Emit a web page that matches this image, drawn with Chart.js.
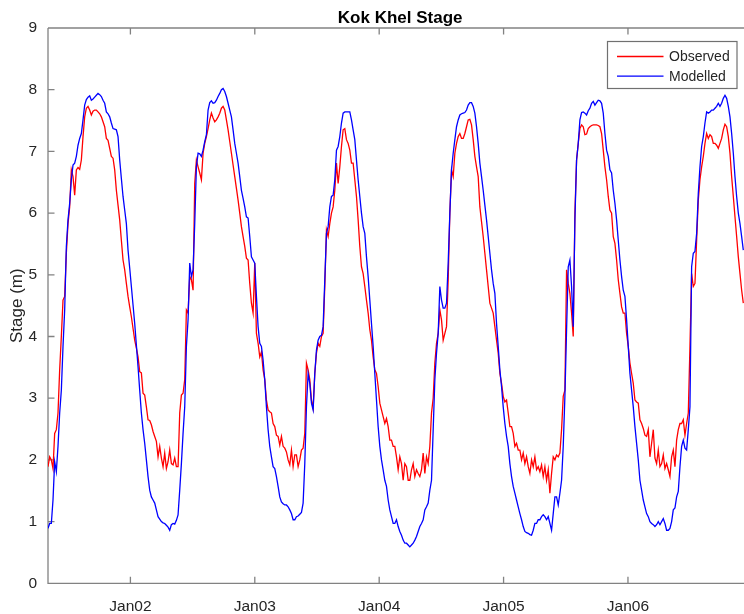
<!DOCTYPE html>
<html>
<head>
<meta charset="utf-8">
<script src="https://cdn.jsdelivr.net/npm/chart.js@4/dist/chart.umd.min.js"></script>
<style>
  html, body { margin: 0; padding: 0; background: #ffffff; overflow: hidden; width: 744px; height: 614px; }
  #wrap { position: absolute; left: 0; top: 0; width: 760px; height: 614px; }
</style>
</head>
<body>
<div id="wrap"><canvas id="c" width="760" height="614"></canvas></div>
<script>
// ---------- data ----------
const chartTitle = 'Kok Khel Stage';
const yAxisLabel = 'Stage (m)';
const seriesNames = ['Observed', 'Modelled'];
const xTickYears = [2002, 2003, 2004, 2005, 2006];
const xTickLabels = ['Jan02', 'Jan03', 'Jan04', 'Jan05', 'Jan06'];
const yTickValues = [0, 1, 2, 3, 4, 5, 6, 7, 8, 9];
const xRangeYears = [2001.3375, 2007.0];
// samples are evenly spaced in time (decimal years)
const sampleStartYear = 2001.3375;
const sampleStepYears = 0.013405;

const observed = [
  1.89,2.05,2.00,1.86,2.43,2.49,2.76,3.46,4.00,4.59,
  4.65,5.35,5.83,6.10,6.70,6.59,6.29,6.70,6.74,6.71,
  6.86,7.24,7.56,7.70,7.73,7.67,7.59,7.65,7.67,7.67,
  7.64,7.61,7.56,7.48,7.40,7.21,7.18,7.05,6.92,6.89,
  6.70,6.37,6.13,5.89,5.56,5.24,5.08,4.86,4.65,4.48,
  4.32,4.13,3.94,3.81,3.67,3.43,3.41,3.08,3.05,2.86,
  2.65,2.64,2.57,2.46,2.38,2.30,2.05,2.22,2.03,1.89,
  2.11,1.86,1.97,2.16,1.94,1.92,2.03,1.89,1.89,2.76,
  3.05,3.08,3.30,4.43,4.38,4.97,4.92,4.75,6.48,6.86,
  6.75,6.65,6.54,6.97,7.13,7.24,7.37,7.51,7.62,7.54,
  7.48,7.51,7.56,7.62,7.70,7.73,
  7.67,7.51,7.35,7.16,6.97,6.78,6.59,6.40,6.21,6.00,
  5.78,5.62,5.46,5.27,5.24,4.86,4.54,4.38,5.19,4.05,
  3.89,3.67,3.75,3.46,3.30,2.97,2.81,2.78,2.76,2.59,
  2.54,2.40,2.38,2.24,2.38,2.22,2.19,2.13,2.00,1.92,
  2.16,1.89,2.08,2.08,1.89,2.00,2.16,2.19,2.43,3.57,
  3.46,3.30,2.97,2.84,3.40,3.73,3.89,3.84,4.00,4.05,
  4.81,5.73,5.62,5.83,6.00,6.10,6.37,6.81,6.48,6.75,
  7.08,7.35,7.37,7.19,7.13,7.02,6.81,6.81,6.54,6.27,
  5.89,5.46,5.13,5.02,4.81,4.59,4.38,4.11,3.94,3.67,
  3.46,3.40,3.19,2.92,2.81,2.70,2.59,2.67,2.54,2.32,
  2.32,2.22,2.22,2.05,1.84,2.05,1.94,1.67,1.94,1.89,
  1.67,
  1.67,1.84,1.94,1.73,1.84,1.78,1.73,1.84,2.11,1.78,
  2.05,1.94,2.22,2.76,3.00,3.57,3.89,4.05,4.43,4.27,
  3.94,4.05,4.16,4.92,6.00,6.70,6.59,6.97,7.13,7.24,
  7.29,7.21,7.21,7.29,7.40,7.51,7.52,7.43,7.19,6.92,
  6.75,6.59,6.10,5.86,5.62,5.35,5.08,4.81,4.54,4.46,
  4.38,4.16,3.94,3.73,3.40,3.24,3.03,2.94,2.97,2.76,
  2.54,2.54,2.43,2.22,2.27,2.16,2.16,2.00,2.11,1.94,
  2.05,1.89,1.78,2.00,1.89,2.05,1.84,1.89,1.81,1.92,
  1.73,1.89,1.67,1.84,1.46,1.78,2.05,2.00,2.08,2.05,
  2.11,2.49,3.03,3.13,5.08,4.86,4.70,4.38,4.00,6.00,
  6.86,7.13,7.37,7.43,7.40,7.27,7.28,7.37,
  7.40,7.42,7.43,7.43,7.43,7.42,7.40,7.29,7.02,6.75,
  6.54,6.27,6.05,6.00,5.62,5.51,5.24,4.92,4.70,4.48,
  4.38,4.38,4.05,3.84,3.57,3.40,3.24,2.97,2.94,2.92,
  2.65,2.59,2.51,2.40,2.38,2.49,2.05,2.27,2.49,2.03,
  1.94,2.16,1.89,1.94,2.08,1.86,1.94,1.84,1.73,2.05,
  2.16,1.89,2.32,2.49,2.59,2.59,2.65,2.40,2.59,2.76,
  3.84,5.02,4.81,4.86,5.56,6.21,6.54,6.75,6.92,7.13,
  7.29,7.21,7.27,7.24,7.13,7.13,7.10,7.05,7.13,7.21,
  7.35,7.44,7.40,7.24,6.97,6.59,6.27,5.94,5.62,5.29,
  5.02,4.75,4.54
];

const modelled = [
  0.89,0.97,0.97,1.35,1.97,1.81,2.22,2.76,3.13,3.84,
  4.43,5.46,5.89,6.16,6.54,6.78,6.81,6.92,7.10,7.21,
  7.29,7.51,7.75,7.84,7.88,7.90,7.83,7.85,7.88,7.91,
  7.94,7.92,7.89,7.83,7.78,7.64,7.61,7.56,7.46,7.37,
  7.36,7.35,7.24,6.86,6.56,6.27,6.05,5.83,5.40,5.11,
  4.81,4.51,4.21,3.86,3.51,3.13,2.76,2.49,2.27,2.00,
  1.73,1.51,1.40,1.35,1.30,1.19,1.08,1.04,1.00,0.98,
  0.97,0.94,0.91,0.86,0.95,0.97,0.96,1.02,1.11,1.51,
  1.94,2.43,2.86,3.84,4.27,5.19,4.97,5.08,5.83,6.75,
  6.97,6.96,6.92,7.02,7.16,7.27,7.67,7.79,7.82,7.78,
  7.79,7.83,7.89,7.94,8.00,8.02,
  7.97,7.89,7.78,7.67,7.56,7.35,7.13,6.97,6.81,6.59,
  6.37,6.24,6.10,5.94,5.92,5.62,5.29,5.24,5.19,4.65,
  4.16,3.89,3.84,3.62,3.30,2.86,2.49,2.22,2.05,1.89,
  1.86,1.73,1.57,1.40,1.32,1.29,1.27,1.27,1.24,1.19,
  1.13,1.03,1.03,1.08,1.09,1.12,1.15,1.30,1.94,2.86,
  3.40,3.24,2.92,2.81,3.40,3.78,3.94,4.00,4.02,4.16,
  4.92,5.67,5.78,6.10,6.27,6.29,6.54,7.02,7.08,7.24,
  7.46,7.62,7.64,7.64,7.64,7.64,7.51,7.35,7.19,6.86,
  6.54,6.27,6.00,5.78,5.67,5.29,4.97,4.59,4.21,3.84,
  3.40,2.97,2.54,2.22,2.00,1.84,1.67,1.57,1.35,1.19,
  1.08,0.97,0.97,1.03,0.92,0.84,0.78,0.70,0.65,0.65,
  0.62,
  0.59,0.62,0.65,0.70,0.76,0.84,0.92,0.97,1.03,1.19,
  1.24,1.30,1.51,1.67,2.49,3.30,3.73,4.05,4.81,4.59,
  4.46,4.46,4.54,5.19,6.00,6.70,6.97,7.19,7.40,7.51,
  7.59,7.61,7.62,7.63,7.67,7.75,7.79,7.79,7.73,7.62,
  7.40,7.13,6.81,6.59,6.37,6.13,5.89,5.62,5.35,5.08,
  4.86,4.70,4.21,3.84,3.46,3.19,2.86,2.59,2.38,2.22,
  1.94,1.73,1.57,1.46,1.35,1.24,1.13,1.03,0.92,0.84,
  0.82,0.81,0.79,0.78,0.86,0.97,0.97,1.03,1.03,1.08,
  1.11,1.08,1.03,1.08,0.97,0.86,1.13,1.40,1.40,1.27,
  1.46,1.67,2.22,3.03,4.11,5.13,5.24,4.81,4.16,5.89,
  6.86,7.13,7.51,7.63,7.64,7.62,7.59,7.66,
  7.70,7.78,7.81,7.75,7.79,7.83,7.82,7.78,7.62,7.29,
  7.02,6.92,6.70,6.65,6.37,6.16,5.89,5.56,5.24,4.97,
  4.75,4.65,4.27,3.84,3.40,3.13,2.86,2.54,2.27,2.00,
  1.67,1.51,1.35,1.24,1.13,1.08,1.00,0.97,0.95,0.92,
  0.95,1.00,0.95,1.00,1.05,0.97,0.86,0.86,0.89,1.00,
  1.19,1.22,1.40,1.49,1.89,2.22,2.32,2.19,2.16,2.49,
  2.86,5.13,5.35,5.38,5.67,6.32,6.75,7.08,7.24,7.46,
  7.64,7.62,7.64,7.67,7.67,7.70,7.73,7.78,7.73,7.78,
  7.86,7.91,7.86,7.73,7.56,7.29,6.97,6.59,6.27,6.00,
  5.83,5.62,5.40
];

// ---------- styling ----------
const FONT = "'Liberation Sans', Arial, Helvetica, sans-serif";
const AXIS_COLOR = '#828282';
const TEXT_COLOR = '#262626';
const seriesColors = ['#ff0000', '#0000ff'];

const toPoints = arr => arr.map((v, i) => ({ x: sampleStartYear + i * sampleStepYears, y: v }));

const framePlugin = {
  id: 'frame',
  beforeDatasetsDraw(chart) {
    const { ctx, chartArea: a, scales: { x, y } } = chart;
    ctx.save();
    ctx.strokeStyle = AXIS_COLOR;
    ctx.lineWidth = 1.3;
    ctx.beginPath();
    ctx.moveTo(a.left, a.top); ctx.lineTo(a.right + 10, a.top);
    ctx.moveTo(a.left, a.top); ctx.lineTo(a.left, a.bottom); ctx.lineTo(a.right + 10, a.bottom);
    xTickYears.forEach(v => {
      const px = x.getPixelForValue(v);
      ctx.moveTo(px, a.bottom); ctx.lineTo(px, a.bottom - 6.5);
      ctx.moveTo(px, a.top); ctx.lineTo(px, a.top + 6.5);
    });
    yTickValues.forEach(v => {
      const py = y.getPixelForValue(v);
      ctx.moveTo(a.left, py); ctx.lineTo(a.left + 6.5, py);
    });
    ctx.stroke();
    ctx.restore();
  },
  afterDatasetsDraw(chart) {
    const { ctx, chartArea: a } = chart;
    ctx.save();
    // title
    ctx.fillStyle = '#000000';
    ctx.font = 'bold 17px ' + FONT;
    ctx.textAlign = 'center';
    ctx.textBaseline = 'alphabetic';
    ctx.fillText(chartTitle, (a.left + a.right) / 2, 22.7);
    // legend
    const bx = 607.5, by = 41.5, bw = 129.5, bh = 47;
    ctx.fillStyle = '#ffffff';
    ctx.fillRect(bx, by, bw, bh);
    ctx.strokeStyle = '#707070';
    ctx.lineWidth = 1.2;
    ctx.strokeRect(bx, by, bw, bh);
    ctx.font = '14px ' + FONT;
    ctx.textAlign = 'left';
    ctx.textBaseline = 'middle';
    seriesNames.forEach((name, i) => {
      const ly = 56.5 + i * 19.7;
      ctx.strokeStyle = seriesColors[i];
      ctx.lineWidth = 1.3;
      ctx.beginPath(); ctx.moveTo(617, ly); ctx.lineTo(663.5, ly); ctx.stroke();
      ctx.fillStyle = TEXT_COLOR;
      ctx.fillText(name, 669, ly + 0.5);
    });
    ctx.restore();
  }
};

new Chart(document.getElementById('c').getContext('2d'), {
  type: 'line',
  data: {
    datasets: [
      { label: seriesNames[0], data: toPoints(observed), borderColor: seriesColors[0], borderWidth: 1.3,
        pointRadius: 0, tension: 0, fill: false, order: 1 },
      { label: seriesNames[1], data: toPoints(modelled), borderColor: seriesColors[1], borderWidth: 1.3,
        pointRadius: 0, tension: 0, fill: false, order: 0 }
    ]
  },
  options: {
    responsive: false,
    animation: false,
    devicePixelRatio: 1,
    layout: { padding: { left: 0, right: 7.65, top: 28, bottom: 0 } },
    plugins: { legend: { display: false }, title: { display: false }, tooltip: { enabled: false } },
    scales: {
      x: {
        type: 'linear',
        min: xRangeYears[0], max: xRangeYears[1],
        grid: { display: false, drawTicks: false },
        border: { display: false },
        afterBuildTicks: s => { s.ticks = xTickYears.map(v => ({ value: v })); },
        afterFit: s => { s.height = 30.7; },
        ticks: {
          autoSkip: false, maxRotation: 0, minRotation: 0, padding: 14,
          color: TEXT_COLOR, font: { family: FONT, size: 15.5 },
          callback: v => { const k = xTickYears.indexOf(v); return k >= 0 ? xTickLabels[k] : ''; }
        }
      },
      y: {
        min: 0, max: 9,
        grid: { display: false, drawTicks: false },
        border: { display: false },
        afterFit: s => { s.width = 48; },
        ticks: { stepSize: 1, padding: 11, color: TEXT_COLOR, font: { family: FONT, size: 15.5 } },
        title: { display: true, text: yAxisLabel, color: TEXT_COLOR, font: { family: FONT, size: 17 },
                 padding: { top: 7.5, bottom: 0 } }
      }
    }
  },
  plugins: [framePlugin]
});
</script>
</body>
</html>
